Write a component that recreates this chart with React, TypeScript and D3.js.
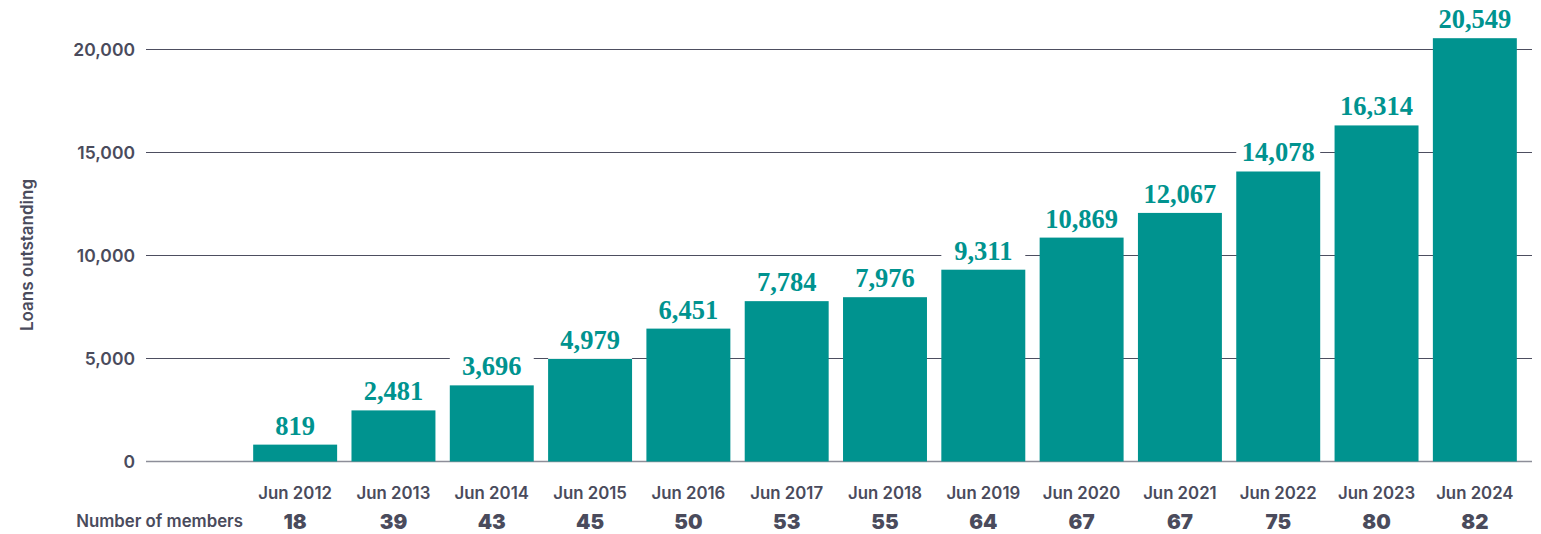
import React from "react";
import { scaleBand, scaleLinear, format } from "d3";

const periods = [
  "Jun 2012", "Jun 2013", "Jun 2014", "Jun 2015", "Jun 2016", "Jun 2017", "Jun 2018",
  "Jun 2019", "Jun 2020", "Jun 2021", "Jun 2022", "Jun 2023", "Jun 2024",
];
const loans = [819, 2481, 3696, 4979, 6451, 7784, 7976, 9311, 10869, 12067, 14078, 16314, 20549];
const members = [18, 39, 43, 45, 50, 53, 55, 64, 67, 67, 75, 80, 82];
const yTicks = [0, 5000, 10000, 15000, 20000];

const W = 1541;
const H = 534;
const gridLeft = 146;
const gridRight = 1532;

const TEAL = "#00938f";
const INK = "#4a4b5c";
const sans = "Inter, 'DejaVu Sans', sans-serif";

const App = () => {
  const x = scaleBand<string>()
    .domain(periods)
    .range([246, 1524])
    .paddingInner(0.146)
    .paddingOuter(0.073);
  const y = scaleLinear().domain([0, 20000]).range([461.5, 49.5]);
  const fmt = format(",");
  const bw = x.bandwidth();

  return (
    <div style={{ position: "absolute", left: 0, top: 0 }}>
      <svg width={W} height={H} style={{ display: "block", background: "#fff" }}>
        <text
          transform={`translate(33,255) rotate(-90)`}
          textAnchor="middle"
          fontFamily={sans}
          fontWeight={600}
          fontSize={17}
          fill={INK}
        >
          Loans outstanding
        </text>

        {yTicks.map((t) => (
          <g key={t}>
            <line
              x1={gridLeft}
              x2={gridRight}
              y1={y(t)}
              y2={y(t)}
              stroke={t === 0 ? "#8d8e99" : "#4d4e60"}
              strokeWidth={t === 0 ? 1.5 : 1}
            />
            <text
              x={135}
              y={y(t)}
              dy="0.35em"
              textAnchor="end"
              fontFamily={sans}
              fontWeight={600}
              fontSize={17.5}
              fill={INK}
            >
              {fmt(t)}
            </text>
          </g>
        ))}

        {periods.map((p, i) => {
          const bx = x(p) as number;
          const top = y(loans[i]);
          return (
            <g key={p}>
              <rect x={bx} y={top - 36} width={bw} height={36} fill="#fff" />
              <rect x={bx} y={top} width={bw} height={y(0) - top} fill={TEAL} />
              <text
                x={bx + bw / 2}
                y={top - 10}
                textAnchor="middle"
                fontFamily="'Liberation Serif', serif"
                fontWeight={700}
                fontSize={26.5}
                fill={TEAL}
              >
                {fmt(loans[i])}
              </text>
              <text
                x={bx + bw / 2}
                y={498.5}
                textAnchor="middle"
                fontFamily={sans}
                fontWeight={600}
                fontSize={16.8}
                fill={INK}
              >
                {p}
              </text>
              <text
                x={bx + bw / 2}
                y={528.5}
                textAnchor="middle"
                fontFamily={sans}
                fontWeight={900}
                fontSize={20.5}
                fill={INK}
              >
                {members[i]}
              </text>
            </g>
          );
        })}

        <text
          x={243}
          y={526.5}
          textAnchor="end"
          fontFamily={sans}
          fontWeight={600}
          fontSize={16.8}
          fill={INK}
        >
          Number of members
        </text>
      </svg>
    </div>
  );
};

export default App;
